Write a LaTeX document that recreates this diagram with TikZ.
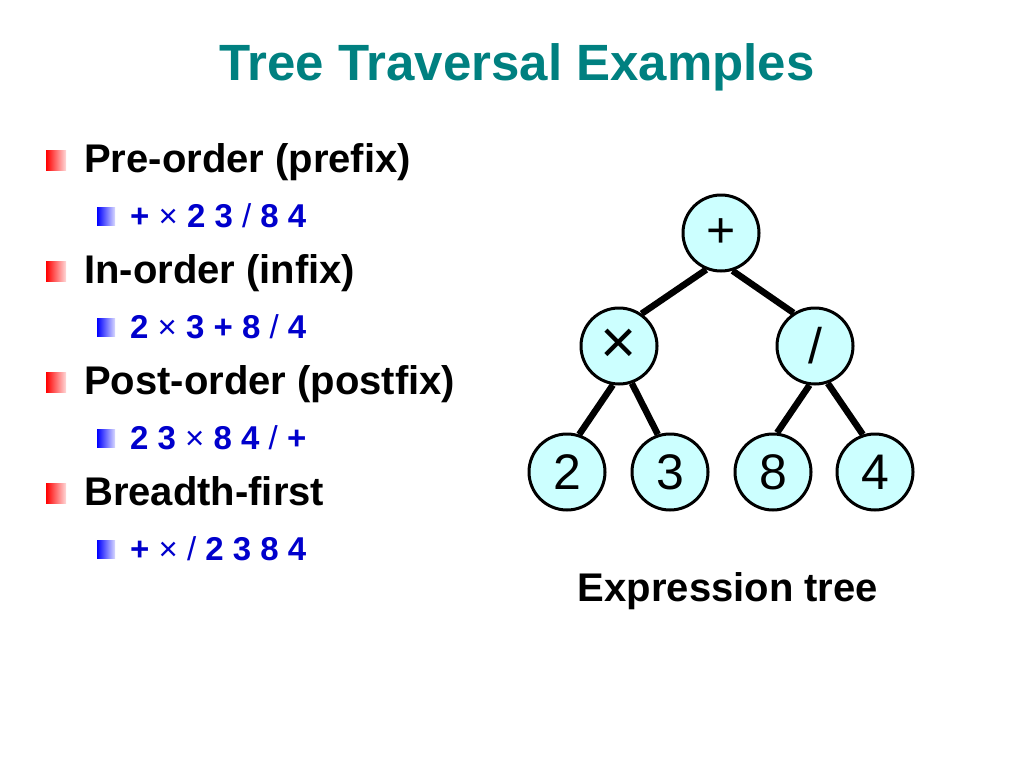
\documentclass[tikz,border=0pt]{standalone}
\usepackage{fontspec}
\setmainfont{Liberation Sans}
\usetikzlibrary{positioning}
\definecolor{titleteal}{RGB}{0,128,128}
\definecolor{itemblue}{RGB}{0,0,204}
\definecolor{nodecyan}{RGB}{204,255,255}

\begin{document}
\begin{tikzpicture}[x=1pt, y=-1pt,
    title/.style={anchor=base, text=titleteal, inner sep=0pt, font=\fontsize{51}{60}\selectfont\bfseries},
    item/.style={anchor=base west, inner sep=0pt, font=\fontsize{40}{48}\selectfont\bfseries},
    subitem/.style={anchor=base west, inner sep=0pt, text=itemblue, font=\fontsize{33}{40}\selectfont\bfseries},
    redbullet/.style={rectangle, minimum size=20pt, inner sep=0pt, left color=red, right color=red!15},
    bluebullet/.style={rectangle, minimum size=18pt, inner sep=0pt, left color=blue, right color=blue!15},
    op/.style={circle, draw=black, line width=3pt, fill=nodecyan, minimum size=76pt, inner sep=0pt, font=\fontsize{50}{60}\selectfont},
    branch/.style={line width=6.5pt}
]
    \useasboundingbox (0,0) rectangle (1024,768);

    \node[title] (title) at (517,81) {Tree Traversal Examples};

    % traversals
    \node[redbullet] (b1) at (56,160) {};
    \node[item] (pre) at (84,172) {Pre-order (prefix)};
    \node[bluebullet] (s1) at (106,216) {};
    \node[subitem] (preseq) at (130,227) {+ {\mdseries ×} 2 3 {\mdseries /} 8 4};

    \node[redbullet] (b2) at (56,271) {};
    \node[item] (in) at (84,283) {In-order (infix)};
    \node[bluebullet] (s2) at (106,327) {};
    \node[subitem] (inseq) at (130,338) {2 {\mdseries ×} 3 + 8 {\mdseries /} 4};

    \node[redbullet] (b3) at (56,382) {};
    \node[item] (post) at (84,394) {Post-order (postfix)};
    \node[bluebullet] (s3) at (106,438) {};
    \node[subitem] (postseq) at (130,449) {2 3 {\mdseries ×} 8 4 {\mdseries /} +};

    \node[redbullet] (b4) at (56,493) {};
    \node[item] (bfs) at (84,505) {Breadth-first};
    \node[bluebullet] (s4) at (106,549) {};
    \node[subitem] (bfsseq) at (130,560) {+ {\mdseries ×} {\mdseries /} 2 3 8 4};

    % expression tree
    \node[op] (plus) at (721,233) {+};
    \node[op, on grid, below left=113pt and 102pt of plus] (times) {\fontsize{62}{70}\selectfont ×};
    \node[op, on grid, below right=113pt and 94pt of plus] (divide) {/};
    \node[op, on grid, below left=126pt and 52pt of times] (two) {2};
    \node[op, on grid, below right=126pt and 51pt of times] (three) {3};
    \node[op, on grid, below left=126pt and 42pt of divide] (eight) {8};
    \node[op, on grid, below right=126pt and 60pt of divide] (four) {4};

    \draw[branch] (plus.248) -- (times.55);
    \draw[branch] (plus.287) -- (divide.123);
    \draw[branch] (times.261) -- (two.72);
    \draw[branch] (times.289) -- (three.108);
    \draw[branch] (divide.262) -- (eight.84);
    \draw[branch] (divide.289) -- (four.108);

    \node[item, anchor=base] (caption) at (728,601) {Expression tree};
\end{tikzpicture}
\end{document}
